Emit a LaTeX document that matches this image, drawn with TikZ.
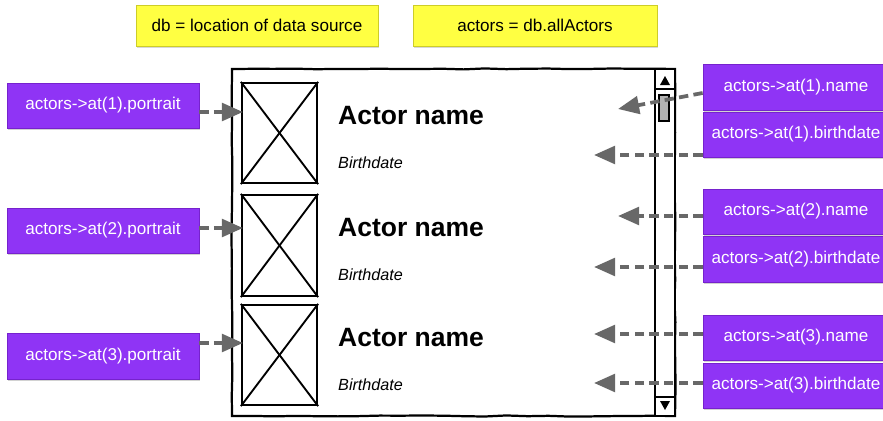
\documentclass[tikz,border=0pt]{standalone}
\usepackage{fontspec}
\setmainfont{Liberation Sans}
\usetikzlibrary{arrows.meta,shadows,calc,decorations.pathmorphing}
\definecolor{purp}{RGB}{143,52,245}
\definecolor{purpline}{RGB}{118,34,205}
\definecolor{yel}{RGB}{255,255,66}
\definecolor{yelline}{RGB}{205,205,40}
\definecolor{arrgray}{RGB}{104,104,104}
\newdimen\pxu \pxu=0.03cm
\tikzset{
  purpbox/.style={draw=purpline, fill=purp, line width=0.6pt, text=white,
    font=\fontsize{14.6pt}{16pt}\selectfont, inner sep=0pt,
    drop shadow={shadow xshift=1.2pt, shadow yshift=-1.6pt, opacity=0.35}},
  yelbox/.style={draw=yelline, fill=yel, line width=0.8pt, text=black,
    font=\fontsize{14.6pt}{16pt}\selectfont, inner sep=0pt,
    minimum height=41*\pxu,
    drop shadow={shadow xshift=1.2pt, shadow yshift=-1.6pt, opacity=0.3}},
  imgbox/.style={draw=black, line width=1.9pt, inner sep=0pt, minimum width=75*\pxu},
  sketch/.style={draw=black, line width=1.9pt},
  conn/.style={draw=arrgray, line width=3.2pt, dash pattern=on 8pt off 4.5pt,
    -{Triangle[length=18pt,width=15pt]}},
  aname/.style={font=\fontsize{22.6pt}{26pt}\selectfont\bfseries, anchor=base west, inner sep=0pt},
  bdate/.style={font=\fontsize{13.8pt}{16pt}\selectfont\itshape, anchor=base west, inner sep=0pt},
}
\begin{document}
\begin{tikzpicture}[x=0.03cm, y=-0.03cm]
\useasboundingbox[fill=white] (0,0) rectangle (883,421);

% yellow notes
\node[yelbox, minimum width=242*\pxu] (y1) at (257,25.5) {db = location of data source};
\node[yelbox, minimum width=244*\pxu] (y2) at (535,25.5) {actors = db.allActors};

% list frame and scrollbar
\path[sketch, fill=white, decorate, decoration={random steps, segment length=18pt, amplitude=0.5pt}] (232,69) -- (675,69) -- (675,416) -- (232,416) -- cycle;
\node[sketch, fill=white, minimum width=20*\pxu, minimum height=347*\pxu, inner sep=0pt] (sb) at (665,242.5) {};
\node[sketch, minimum width=20*\pxu, minimum height=20*\pxu, inner sep=0pt] (sbup) at (665,79) {};
\node[sketch, minimum width=20*\pxu, minimum height=19*\pxu, inner sep=0pt] (sbdn) at (665,406.5) {};
\fill[black] (660,85) -- (670,85) -- (665,76) -- cycle;
\fill[black] (660,401) -- (670,401) -- (665,410) -- cycle;
\node[draw=black, line width=1.3pt, fill=black!30, minimum width=10*\pxu, minimum height=26*\pxu, inner sep=0pt] (thumb) at (664,108) {};

% image placeholders
\node[imgbox, minimum height=100*\pxu] (img1) at (279.5,133) {};
\node[imgbox, minimum height=101*\pxu] (img2) at (279.5,245.5) {};
\node[imgbox, minimum height=100*\pxu] (img3) at (279.5,355) {};
\foreach \i in {1,2,3}{
  \draw[black, line width=1.6pt] (img\i.north west) -- (img\i.south east);
  \draw[black, line width=1.6pt] (img\i.south west) -- (img\i.north east);
}

% texts
\node[aname] (an1) at (338,124) {Actor name};
\node[aname] (an2) at (338,236) {Actor name};
\node[aname] (an3) at (338,346) {Actor name};
\node[bdate] (bd1) at (338,168.5) {Birthdate};
\node[bdate] (bd2) at (338,280.5) {Birthdate};
\node[bdate] (bd3) at (338,390.5) {Birthdate};

% left purple boxes
\node[purpbox, minimum width=192*\pxu, minimum height=45*\pxu] (lp1) at (103,105.5) {actors->at(1).portrait};
\node[purpbox, minimum width=192*\pxu, minimum height=45*\pxu] (lp2) at (103,230.5) {actors->at(2).portrait};
\node[purpbox, minimum width=192*\pxu, minimum height=46*\pxu] (lp3) at (103,356) {actors->at(3).portrait};

% right purple boxes
\node[purpbox, minimum width=186*\pxu, minimum height=46*\pxu] (rn1) at (796,87) {actors->at(1).name};
\node[purpbox, minimum width=186*\pxu, minimum height=45*\pxu] (rb1) at (796,134.5) {actors->at(1).birthdate};
\node[purpbox, minimum width=186*\pxu, minimum height=45*\pxu] (rn2) at (796,211.5) {actors->at(2).name};
\node[purpbox, minimum width=186*\pxu, minimum height=46*\pxu] (rb2) at (796,259.5) {actors->at(2).birthdate};
\node[purpbox, minimum width=186*\pxu, minimum height=45*\pxu] (rn3) at (796,337.5) {actors->at(3).name};
\node[purpbox, minimum width=186*\pxu, minimum height=45*\pxu] (rb3) at (796,385.5) {actors->at(3).birthdate};

% connector end points
\coordinate (tl1) at (243,112);
\coordinate (tl2) at (243,228);
\coordinate (tl3) at (243,343);
\coordinate (sn1) at (703,93);
\coordinate (tn1) at (618,109);
\coordinate (tb1) at (594,155);
\coordinate (tn2) at (618,216);
\coordinate (tb2) at (594,267);
\coordinate (tn3) at (594,334);
\coordinate (tb3) at (594,383);

% connectors
\draw[conn] (lp1.east |- tl1) -- (tl1);
\draw[conn] (lp2.east |- tl2) -- (tl2);
\draw[conn] (lp3.east |- tl3) -- (tl3);
\draw[conn] (rn1.west |- sn1) -- (tn1);
\draw[conn] (rb1.west |- tb1) -- (tb1);
\draw[conn] (rn2.west |- tn2) -- (tn2);
\draw[conn] (rb2.west |- tb2) -- (tb2);
\draw[conn] (rn3.west |- tn3) -- (tn3);
\draw[conn] (rb3.west |- tb3) -- (tb3);
\end{tikzpicture}
\end{document}
